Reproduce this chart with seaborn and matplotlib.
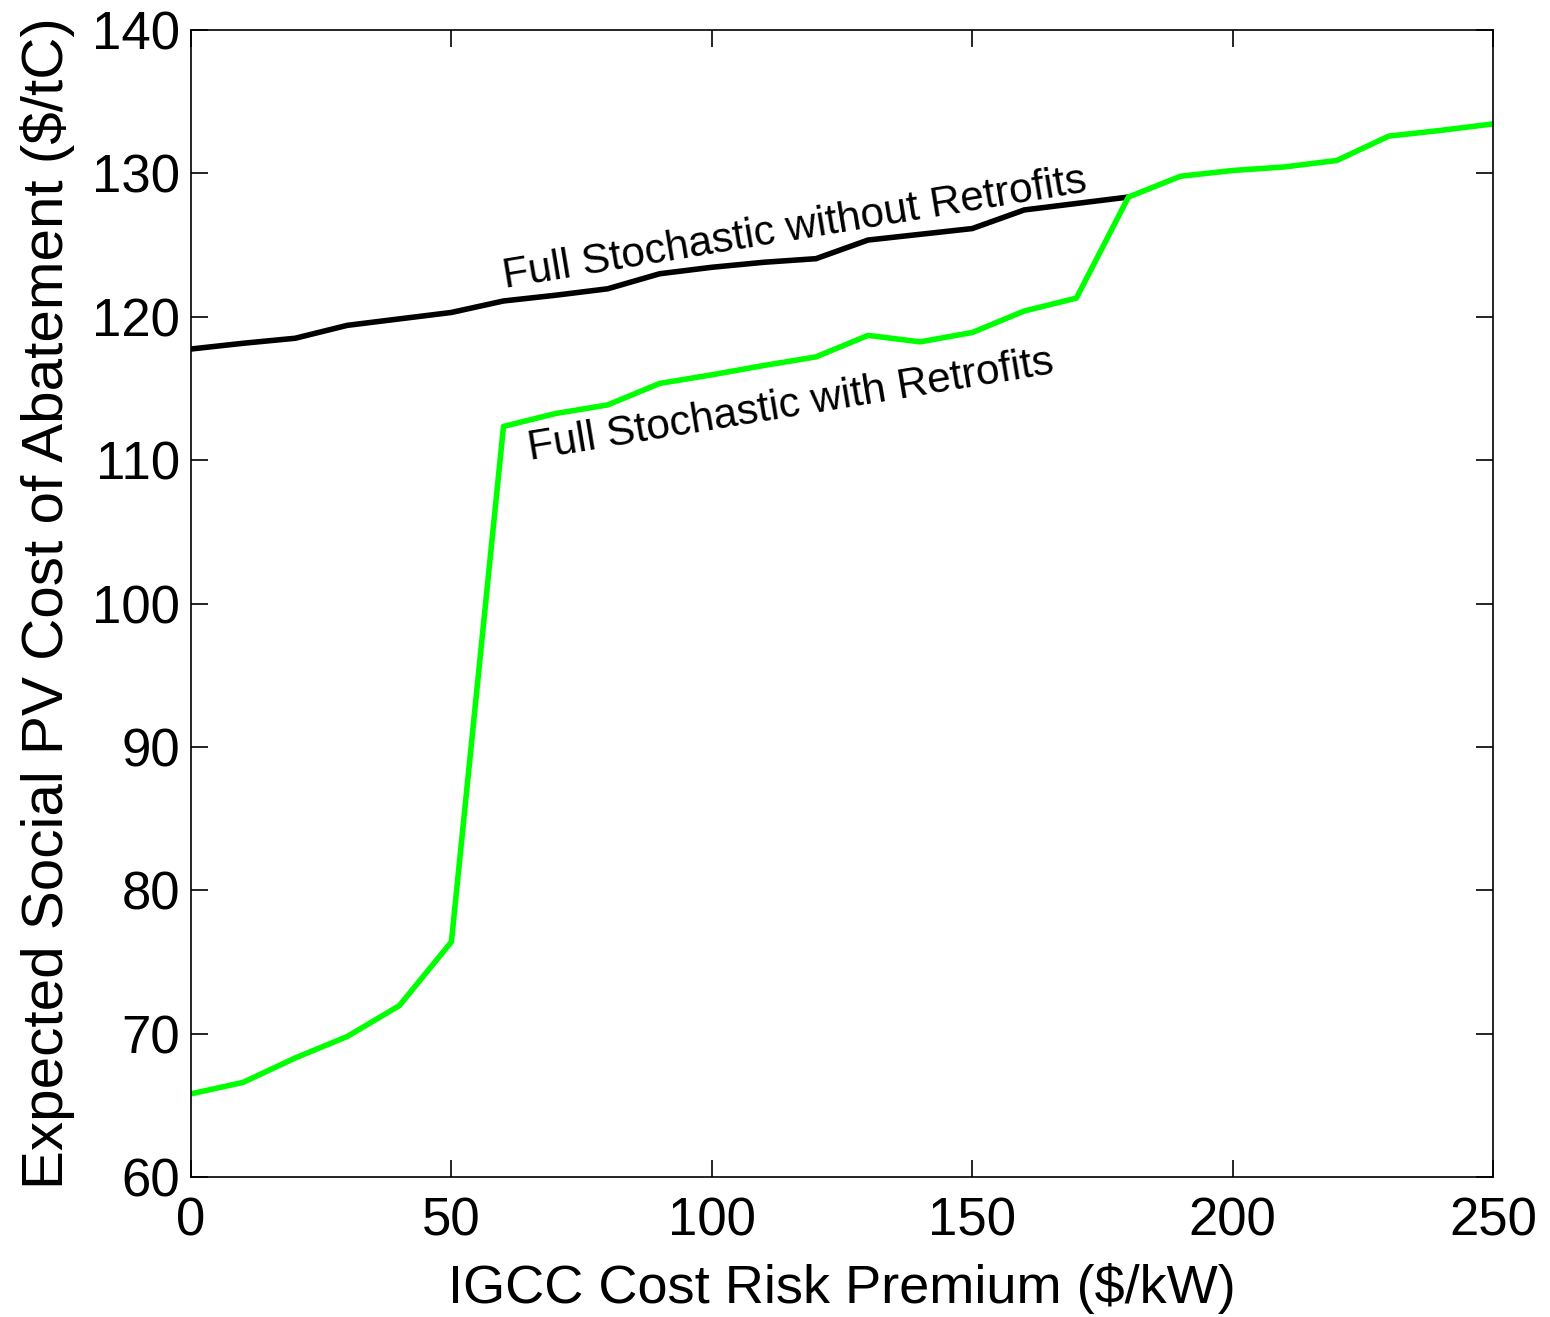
import numpy as np
import pandas as pd
import matplotlib
matplotlib.use("Agg")
import matplotlib.pyplot as plt
import seaborn as sns

# Data
x_without = [0, 10, 20, 30, 40, 50, 60, 70, 80, 90, 100, 110, 120, 130, 140, 150, 160, 170, 180]
y_without = [117.75, 118.15, 118.5, 119.4, 119.85, 120.3, 121.1, 121.5, 121.95, 123.0, 123.45, 123.8, 124.05, 125.35, 125.75, 126.15, 127.45, 127.9, 128.35]

x_with = [0, 10, 20, 30, 40, 50, 60, 70, 80, 90, 100, 110, 120, 130, 140, 150, 160, 170,
          180, 190, 200, 210, 220, 230, 240, 250]
y_with = [65.8, 66.6, 68.3, 69.8, 71.95, 76.4, 112.35, 113.25, 113.85, 115.35, 115.95, 116.6, 117.2,
          118.7, 118.25, 118.9, 120.4, 121.3, 128.35, 129.8, 130.2, 130.45, 130.9, 132.6, 133.0, 133.45]

label_without = "Full Stochastic without Retrofits"
label_with = "Full Stochastic with Retrofits"
xlabel = "IGCC Cost Risk Premium ($/kW)"
ylabel = "Expected Social PV Cost of Abatement ($/tC)"
xticks = [0, 50, 100, 150, 200, 250]
yticks = [60, 70, 80, 90, 100, 110, 120, 130, 140]

sns.set_theme(style="white")
plt.rcParams['font.family'] = ['Liberation Sans', 'DejaVu Sans']
plt.rcParams['text.color'] = 'black'
plt.rcParams['axes.labelcolor'] = 'black'

fig = plt.figure(figsize=(15.5, 13.17), dpi=100)
ax = fig.add_axes([191/1550, 1 - 1177/1317, (1493-191)/1550, (1177-30)/1317])

df1 = pd.DataFrame({"x": x_without, "y": y_without})
df2 = pd.DataFrame({"x": x_with, "y": y_with})
sns.lineplot(data=df1, x="x", y="y", ax=ax, color="black", linewidth=4.0)
sns.lineplot(data=df2, x="x", y="y", ax=ax, color="#00ff00", linewidth=4.0)

ax.set_xlim(0, 250)
ax.set_ylim(60, 140)
ax.set_xticks(xticks)
ax.set_yticks(yticks)
ax.tick_params(axis='both', which='both', direction='in', length=12, width=1.2,
               labelsize=38, colors='black', top=True, right=True, bottom=True, left=True)
ax.tick_params(axis='x', pad=14)
ax.tick_params(axis='y', pad=8)
for s in ax.spines.values():
    s.set_color('black')
    s.set_linewidth(1.2)
    s.set_visible(True)

ax.set_xlabel(xlabel, fontsize=39, labelpad=12, color='black')
ax.set_ylabel(ylabel, fontsize=42, labelpad=12, color='black')

ax.text(60.5, 121.4, label_without, fontsize=30.5, rotation=9.4, rotation_mode='anchor',
        ha='left', va='bottom', color='black')
ax.text(65.3, 109.4, label_with, fontsize=30.5, rotation=9.4, rotation_mode='anchor',
        ha='left', va='bottom', color='black')

fig.savefig("out.png", dpi=100)
